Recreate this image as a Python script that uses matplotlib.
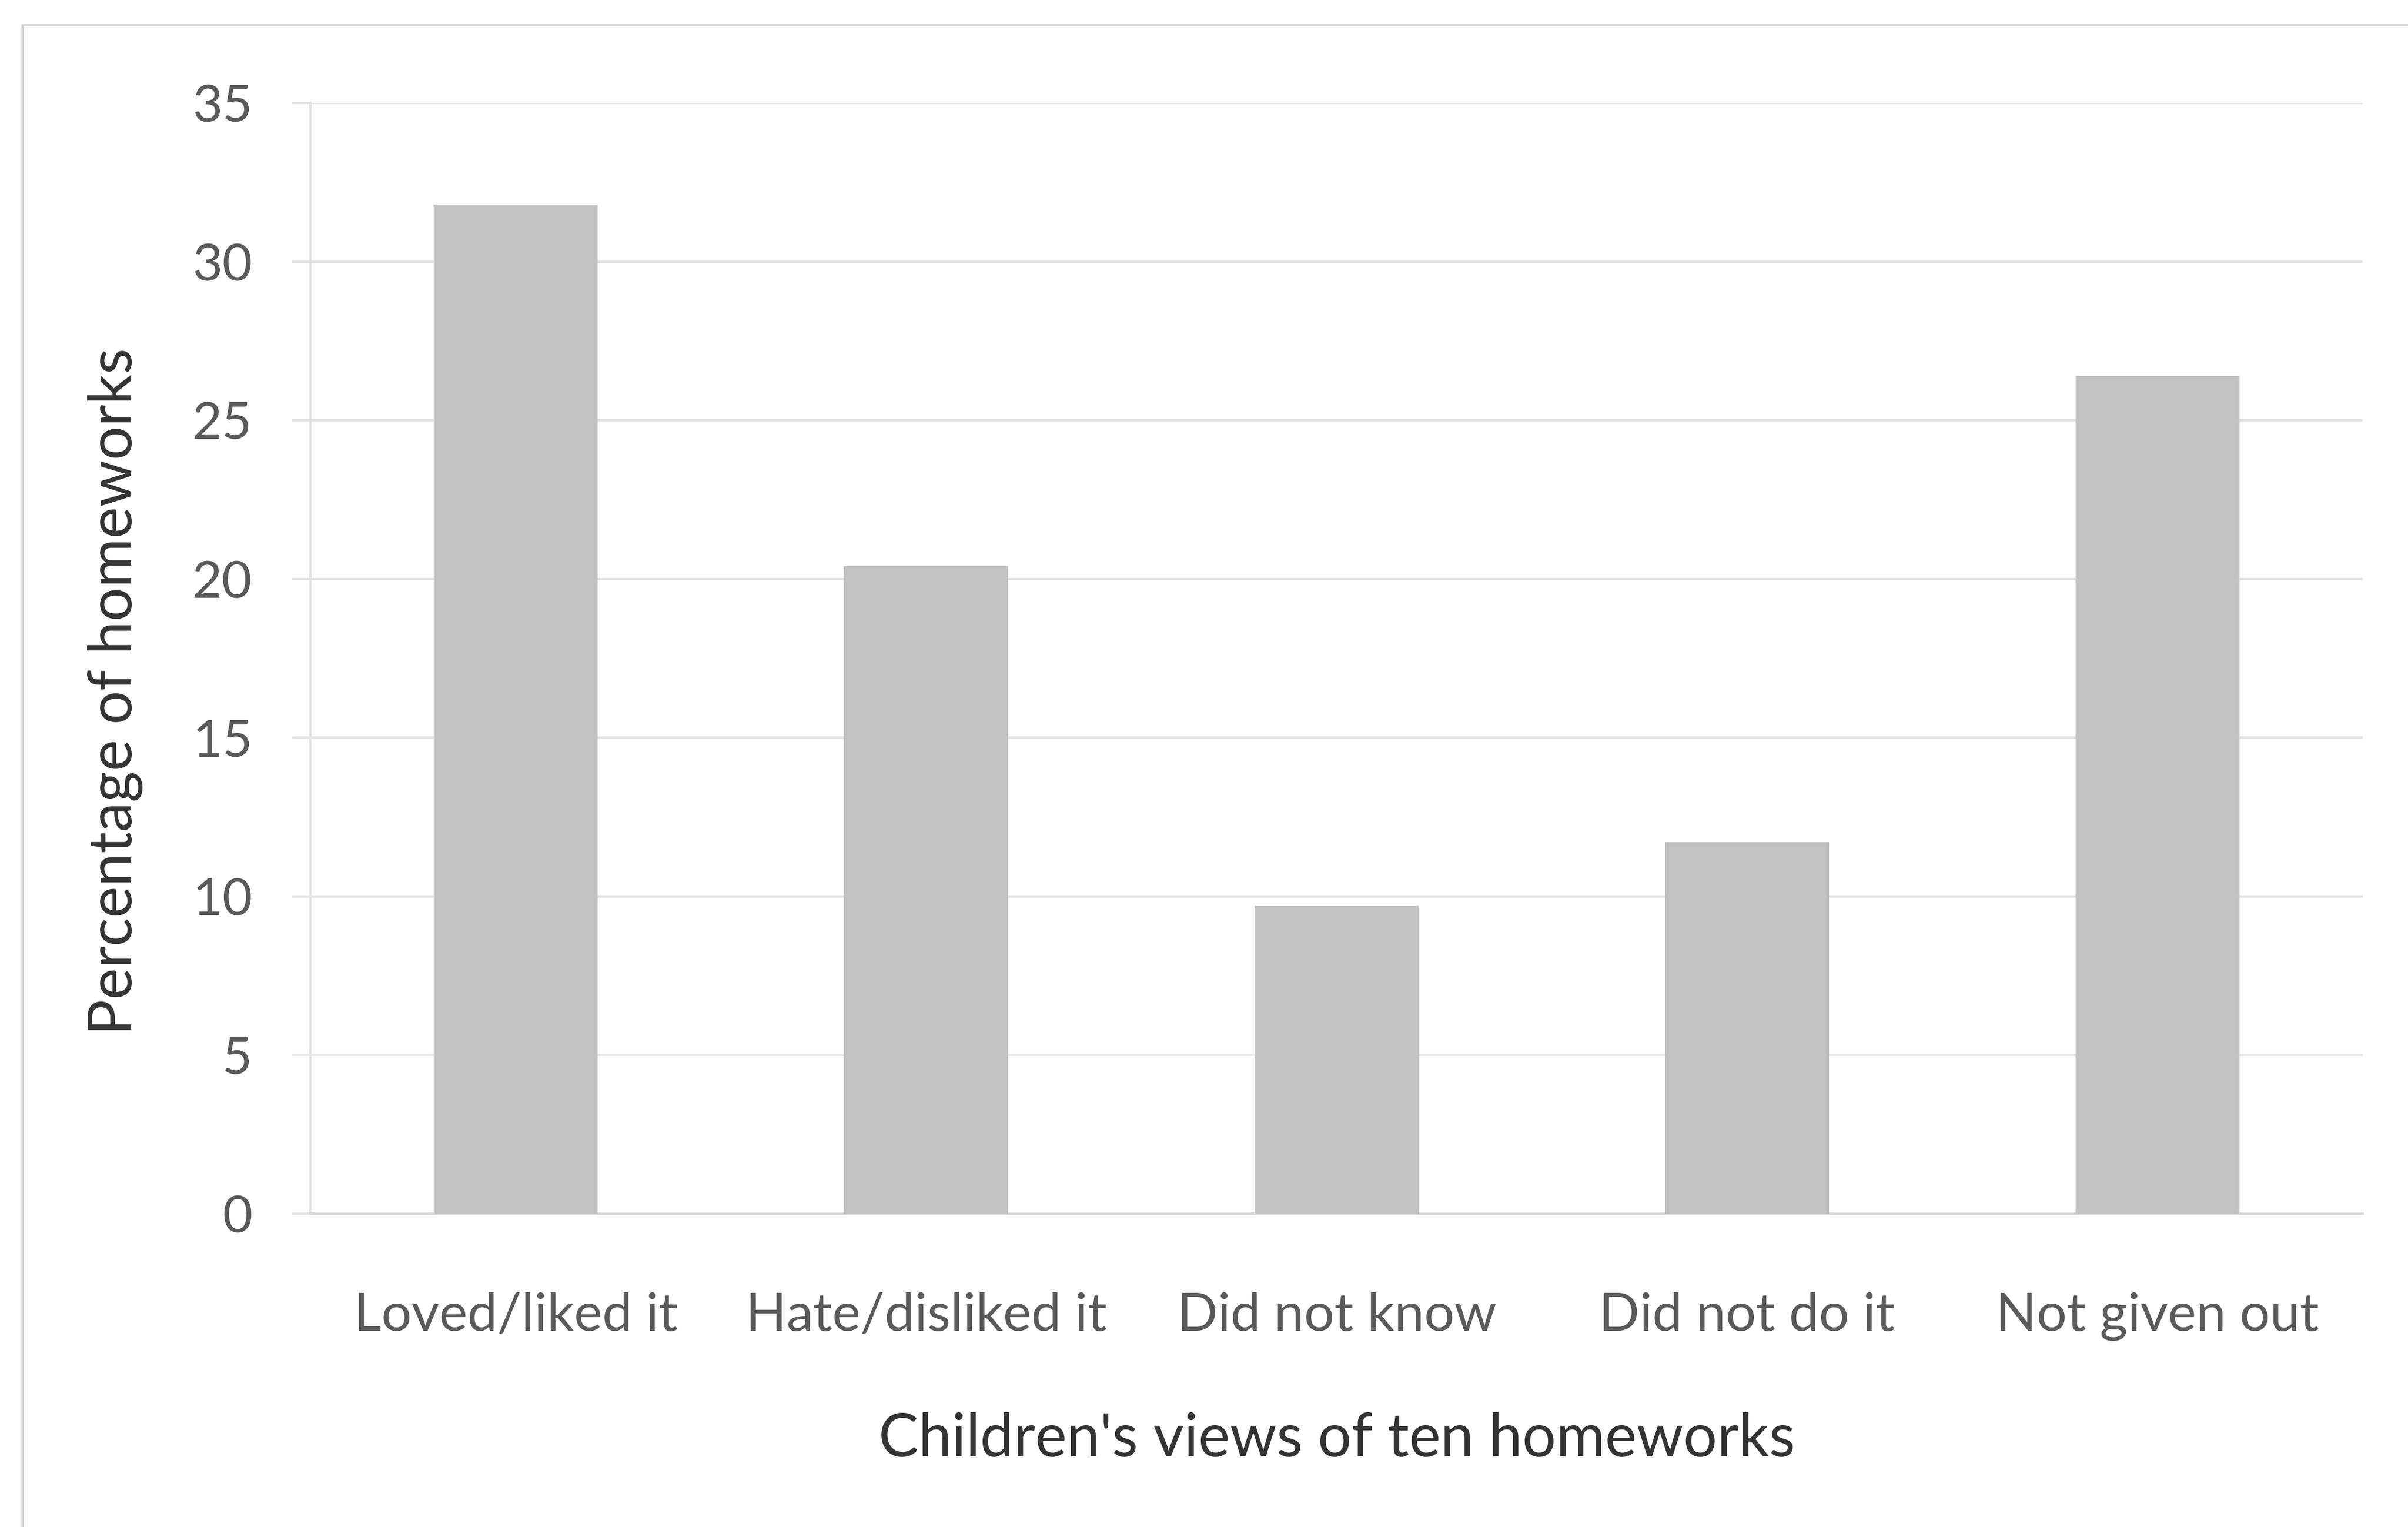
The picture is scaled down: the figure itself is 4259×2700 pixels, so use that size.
import numpy as np
import matplotlib
matplotlib.use("Agg")
from matplotlib import pyplot as plt
from matplotlib.patches import Rectangle

plt.rcParams['font.family'] = ['Lato', 'DejaVu Sans']

categories = ["Loved/liked it", "Hate/disliked it", "Did not know", "Did not do it", "Not given out"]
percentages = [31.8, 20.4, 9.7, 11.7, 26.4]
y_ticks = [0, 5, 10, 15, 20, 25, 30, 35]

grid_col = "#e4e4e4"
bar_col = "#c2c2c2"
tick_col = "#5a5a5a"
title_col = "#333333"

fig = plt.figure(figsize=(42.59, 27), dpi=100)
fig.patch.set_facecolor("white")

# chart area border (only the left and top edges fall inside the image)
fig.patches.append(Rectangle((40 / 4259, -0.1), 1.2, 1 - 45 / 2700 + 0.1,
                             transform=fig.transFigure, fill=False,
                             edgecolor="#cfcfcf", linewidth=3))

ax = fig.add_axes([0.1289, 0.2052, 0.9812 - 0.1289, 0.9326 - 0.2052])

x = np.arange(len(categories))
ax.bar(x, percentages, width=0.4, color=bar_col, zorder=3)

ax.set_xlim(-0.5, len(categories) - 0.5)
ax.set_ylim(0, 35)
ax.set_yticks(y_ticks)
ax.set_xticks(x)
ax.set_xticklabels(categories)

ax.grid(axis="y", color=grid_col, linewidth=3, zorder=0)
for s in ["top", "right"]:
    ax.spines[s].set_visible(False)
ax.spines["left"].set_color(grid_col)
ax.spines["left"].set_linewidth(3)
ax.spines["bottom"].set_color("#dadada")
ax.spines["bottom"].set_linewidth(3)

ax.tick_params(axis="y", length=24, width=3, color=grid_col, pad=50,
               labelsize=66, labelcolor=tick_col)
ax.tick_params(axis="x", length=0, pad=100, labelsize=68, labelcolor=tick_col)

ax.set_xlabel("Children's views of ten homeworks", fontsize=76, color=title_col)
ax.xaxis.label.set_va("center")
ax.xaxis.set_label_coords(0.5, -0.203)
ax.set_ylabel("Percentage of homeworks", fontsize=76, color=title_col)
ax.yaxis.label.set_va("center")
ax.yaxis.set_label_coords(-0.095, 0.47)

fig.savefig("out.png", dpi=100, facecolor="white")
